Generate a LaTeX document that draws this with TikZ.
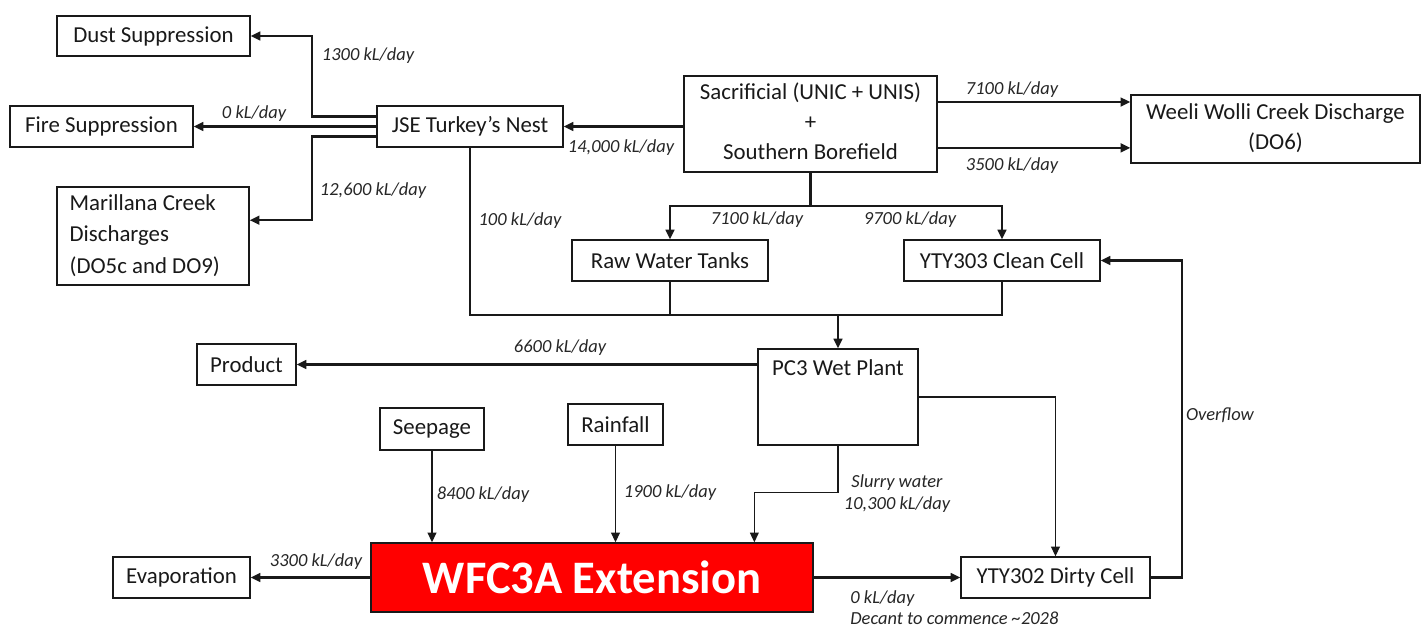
\documentclass[tikz,border=0pt]{standalone}
\usepackage{fontspec}
\setmainfont{Carlito}
\usetikzlibrary{arrows.meta}
\tikzset{
  box/.style={draw=black!90, line width=0.8pt, fill=white, inner sep=0pt, font=\fontsize{13}{16}\selectfont, text=black!90},
  arr/.style={line width=1.2pt, draw=black!90, -{Triangle[length=5.5pt,width=5pt]}},
  thinarr/.style={line width=0.7pt, draw=black!90, -{Triangle[length=5.5pt,width=5pt]}},
  ln/.style={line width=1.2pt, draw=black!90},
  lbl/.style={font=\fontsize{10.5}{12}\selectfont\itshape, text=black!85, inner sep=0pt}
}
\newcommand\bbox[6]{\node[box,minimum width={(#4-#2)*0.02cm},minimum height={(#5-#3)*0.02cm}] (#1) at ({(#2+#4)/2},{(#3+#5)/2}) {#6};}
\begin{document}
\begin{tikzpicture}[x={(0.02cm,0)},y={(0,-0.02cm)}]
\useasboundingbox[fill=white] (0,0) rectangle (1421,627);
% boxes
\bbox{dust}{57}{16}{250}{56}{Dust Suppression}
\bbox{fire}{10}{106}{193}{147}{Fire Suppression}
\node[box,minimum width={192*0.02cm},minimum height={98*0.02cm},
  label={[anchor=west,inner sep=0pt,xshift={13*0.02cm},font=\fontsize{13}{16}\selectfont,text=black!90]west:{\begin{tabular}{@{}l@{}}Marillana Creek\\[2pt]Discharges\\[2pt](DO5c and DO9)\end{tabular}}}] (mar) at (153,236) {};
\bbox{jse}{377}{106}{563}{147}{JSE Turkey’s Nest}
\bbox{sac}{684}{76}{937}{172}{\begin{tabular}{@{}c@{}}Sacrificial (UNIC + UNIS)\\[1pt]+\\[1pt]Southern Borefield\end{tabular}}
\bbox{weeli}{1131}{95}{1420}{163}{\begin{tabular}{@{}c@{}}Weeli Wolli Creek Discharge\\[1pt](DO6)\end{tabular}}
\bbox{raw}{572}{240}{768}{281}{Raw Water Tanks}
\bbox{clean}{904}{240}{1100}{281}{YTY303 Clean Cell}
\bbox{product}{197}{344}{296}{385}{Product}
\node[box,minimum width={160*0.02cm},minimum height={96*0.02cm},
  label={[anchor=north,inner sep=0pt,yshift=-6.5pt,font=\fontsize{13}{16}\selectfont,text=black!90]north:PC3 Wet Plant}] (pc3) at (838,397) {};
\bbox{seep}{380}{408}{484}{450}{Seepage}
\bbox{rain}{568}{404}{663}{445}{Rainfall}
\node[draw=black!90, line width=0.8pt, fill=red, text=white, inner sep=0pt,
  minimum width={442*0.02cm}, minimum height={69*0.02cm},
  font=\fontsize{26.5}{30}\selectfont\bfseries] (wfc) at (592,577.5) {WFC3A Extension};
\bbox{evap}{113}{557}{250}{598}{Evaporation}
\bbox{dirty}{961}{557}{1150}{598}{YTY302 Dirty Cell}
% connectors from JSE
\draw[arr] ([yshift=5.7pt]jse.west) -- ++(-64,0) |- (dust.east);
\draw[arr] (jse.west) -- (fire.east);
\draw[arr] ([yshift=-5.7pt]jse.west) -- ++(-64,0) |- ([yshift=9pt]mar.east);
\draw[arr] (sac.west |- jse.east) -- (jse.east);
% sacrificial to Weeli
\draw[arr] ([yshift=12.5pt]sac.east) -- ([yshift=12.5pt]sac.east -| weeli.west);
\draw[arr] ([yshift=-13.6pt]sac.east) -- ([yshift=-13.6pt]sac.east -| weeli.west);
% sacrificial down
\draw[ln] (sac.south) -- ++(0,33) coordinate (sj);
\draw[arr] (sj) -| (raw.north);
\draw[arr] (sj) -| (clean.north);
% merge to PC3
\coordinate (mj) at (838,315);
\draw[ln] (jse.south) |- (clean.south |- mj) -- (clean.south);
\draw[ln] (raw.south) -- (raw.south |- mj);
\draw[arr] (mj) -- (pc3.north);
% PC3 outputs
\draw[arr] (pc3.west |- product.east) -- (product.east);
\draw[thinarr] (pc3.east) -| (dirty.north);
\draw[thinarr] (pc3.south) -- ++(0,47) -| ([xshift=92.4pt]wfc.north);
% into WFC
\draw[thinarr] (seep.south) -- (seep.south |- wfc.north);
\draw[thinarr] (rain.south) -- (rain.south |- wfc.north);
% out of WFC
\draw[arr] (wfc.west) -- (evap.east);
\draw[arr] (wfc.east) -- (dirty.west);
\draw[arr] (dirty.east) -- ++(31,0) |- (clean.east);
% labels
\node[lbl] (l1) at (368,56) {1300 kL/day};
\node[lbl] (l2) at (254,114) {0 kL/day};
\node[lbl] (l3) at (373,191) {12,600 kL/day};
\node[lbl] (l4) at (621,148) {14,000 kL/day};
\node[lbl] (l5) at (1012,90) {7100 kL/day};
\node[lbl] (l6) at (1012,166) {3500 kL/day};
\node[lbl] (l7) at (757,220) {7100 kL/day};
\node[lbl] (l8) at (910,220) {9700 kL/day};
\node[lbl] (l9) at (520,221) {100 kL/day};
\node[lbl] (l10) at (560,348) {6600 kL/day};
\node[lbl] (l11) at (897,483) {Slurry water};
\node[lbl] (l12) at (897,505) {10,300 kL/day};
\node[lbl] (l13) at (483,495) {8400 kL/day};
\node[lbl] (l14) at (670,493) {1900 kL/day};
\node[lbl] (l15) at (316,562) {3300 kL/day};
\node[lbl,anchor=west] (l16) at (850,599) {0 kL/day};
\node[lbl,anchor=west] (l17) at (850,618) {Decant to commence \char"007E 2028};
\node[lbl] (l18) at (1220,415) {Overflow};
\end{tikzpicture}
\end{document}
